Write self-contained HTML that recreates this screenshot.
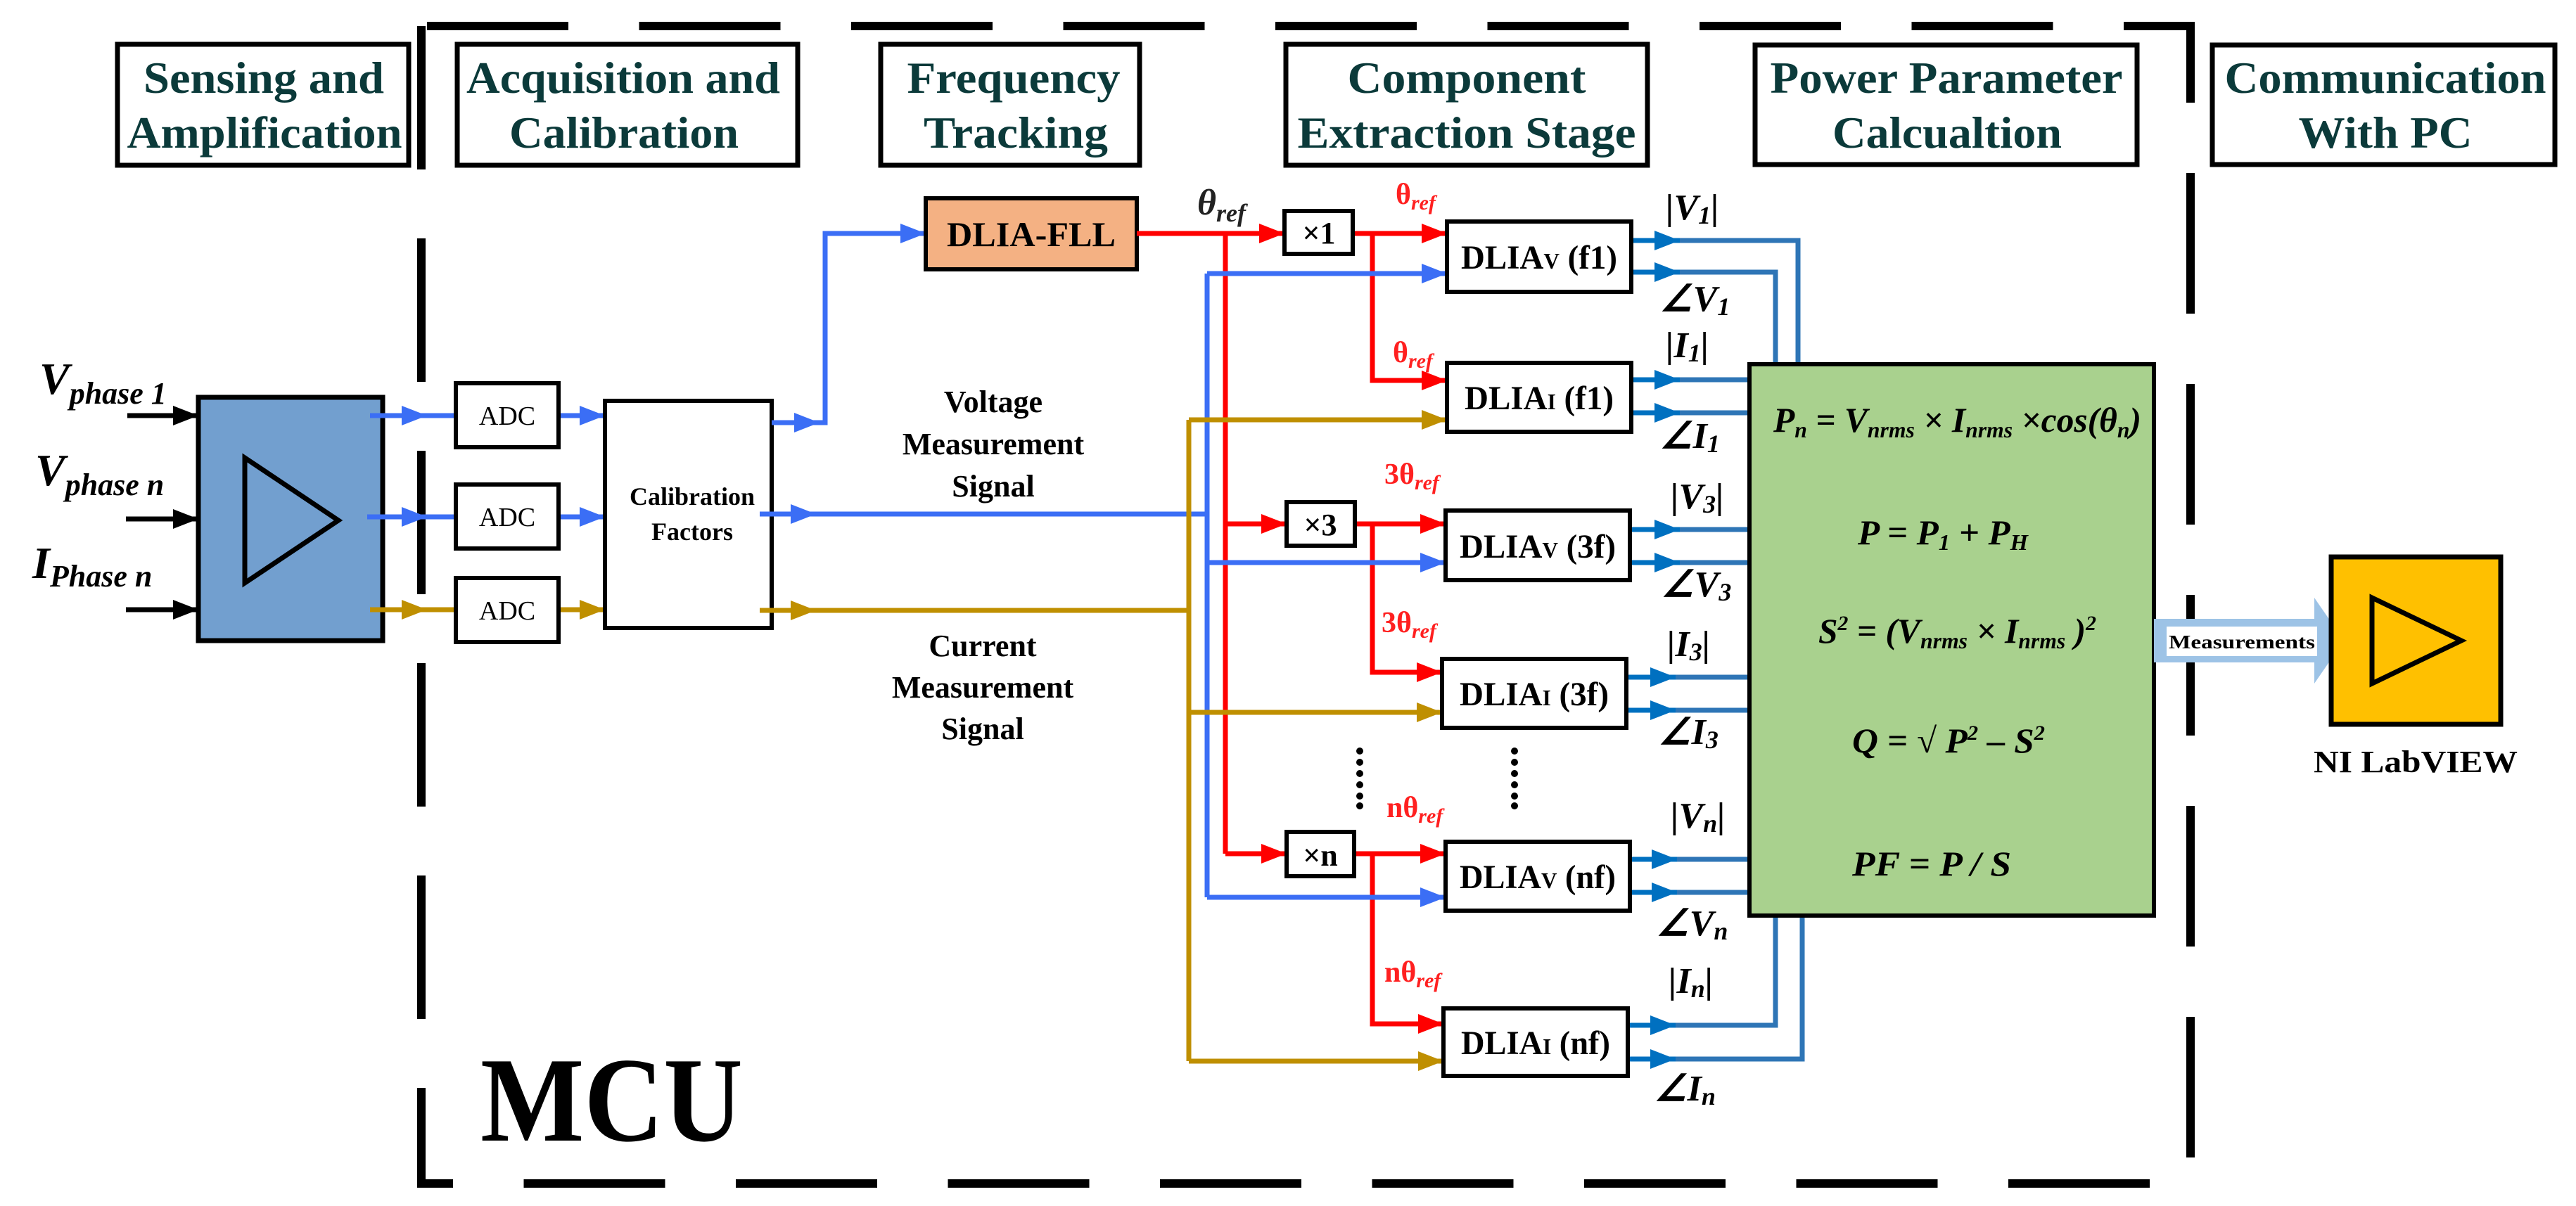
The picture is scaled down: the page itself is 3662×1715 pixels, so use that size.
<!DOCTYPE html>
<html><head><meta charset="utf-8"><style>
html,body{margin:0;padding:0;background:#fff;}
svg{display:block;}
text{font-family:"Liberation Serif",serif;}
</style></head><body>
<svg width="3662" height="1715" viewBox="0 0 3662 1715" xmlns="http://www.w3.org/2000/svg">
<defs>
<marker id="aK" markerUnits="userSpaceOnUse" markerWidth="40" markerHeight="30" refX="36" refY="14" orient="auto"><path d="M0,0 L36,14 L0,28 Z" fill="#000"/></marker>
<marker id="aB" markerUnits="userSpaceOnUse" markerWidth="40" markerHeight="30" refX="36" refY="14" orient="auto"><path d="M0,0 L36,14 L0,28 Z" fill="#3b6ef5"/></marker>
<marker id="aR" markerUnits="userSpaceOnUse" markerWidth="40" markerHeight="30" refX="36" refY="14" orient="auto"><path d="M0,0 L36,14 L0,28 Z" fill="#ff0000"/></marker>
<marker id="aG" markerUnits="userSpaceOnUse" markerWidth="40" markerHeight="30" refX="36" refY="14" orient="auto"><path d="M0,0 L36,14 L0,28 Z" fill="#bf8f00"/></marker>
<marker id="aO" markerUnits="userSpaceOnUse" markerWidth="40" markerHeight="30" refX="36" refY="14" orient="auto"><path d="M0,0 L36,14 L0,28 Z" fill="#0070c0"/></marker>
</defs>

<g stroke="#000" stroke-width="12" fill="none">
<line x1="599" y1="31" x2="599" y2="1689" stroke-dasharray="204 98" stroke-dashoffset="-6"/>
<line x1="607" y1="37" x2="3120" y2="37" stroke-dasharray="201 100.5"/>
<line x1="3114" y1="31" x2="3114" y2="1689" stroke-dasharray="200 100" stroke-dashoffset="85"/>
<line x1="593" y1="1683" x2="3120" y2="1683" stroke-dasharray="201 100.5" stroke-dashoffset="150"/>
</g>

<g stroke="#000" stroke-width="7" fill="#fff">
<rect x="167" y="63" width="414" height="172"/>
<rect x="650" y="63" width="484" height="172"/>
<rect x="1252" y="63" width="368" height="172"/>
<rect x="1828" y="63" width="514" height="172"/>
<rect x="2495" y="64" width="543" height="170"/>
<rect x="3145" y="64" width="487" height="170"/>
</g>
<g fill="#0b3a3a" font-weight="bold" font-size="64" text-anchor="middle">
<text x="375" y="132" textLength="342" lengthAdjust="spacingAndGlyphs">Sensing and</text>
<text x="376" y="210" textLength="391" lengthAdjust="spacingAndGlyphs">Amplification</text>
<text x="886" y="132" textLength="446" lengthAdjust="spacingAndGlyphs">Acquisition and</text>
<text x="887" y="210" textLength="326" lengthAdjust="spacingAndGlyphs">Calibration</text>
<text x="1441" y="132" textLength="303" lengthAdjust="spacingAndGlyphs">Frequency</text>
<text x="1444" y="210" textLength="262" lengthAdjust="spacingAndGlyphs">Tracking</text>
<text x="2085" y="132" textLength="339" lengthAdjust="spacingAndGlyphs">Component</text>
<text x="2085" y="210" textLength="481" lengthAdjust="spacingAndGlyphs">Extraction Stage</text>
<text x="2767" y="132" textLength="501" lengthAdjust="spacingAndGlyphs">Power Parameter</text>
<text x="2768" y="210" textLength="326" lengthAdjust="spacingAndGlyphs">Calcualtion</text>
<text x="3391" y="132" textLength="457" lengthAdjust="spacingAndGlyphs">Communication</text>
<text x="3391" y="210" textLength="247" lengthAdjust="spacingAndGlyphs">With PC</text>
</g>

<text x="683" y="1622" font-size="172" font-weight="bold" textLength="373" lengthAdjust="spacingAndGlyphs">MCU</text>

<g font-weight="bold" font-style="italic" fill="#000">
<text x="56" y="560" font-size="64">V<tspan font-size="44" dy="14">phase 1</tspan></text>
<text x="50" y="690" font-size="64">V<tspan font-size="44" dy="14">phase n</tspan></text>
<text x="46" y="822" font-size="64">I<tspan font-size="44" dy="12">Phase n</tspan></text>
</g>
<g stroke="#000" stroke-width="7">
<line x1="181" y1="591" x2="282" y2="591" marker-end="url(#aK)"/>
<line x1="179" y1="738" x2="282" y2="738" marker-end="url(#aK)"/>
<line x1="179" y1="867" x2="282" y2="867" marker-end="url(#aK)"/>
</g>
<rect x="282" y="565" width="262" height="346" fill="#729fcf" stroke="#000" stroke-width="7"/>
<polygon points="348,651 481,740 348,829" fill="none" stroke="#000" stroke-width="7"/>

<g stroke-width="7" fill="none">
<line x1="526" y1="591" x2="607" y2="591" stroke="#3b6ef5" marker-end="url(#aB)"/>
<line x1="600" y1="591" x2="648" y2="591" stroke="#3b6ef5"/>
<line x1="522" y1="735" x2="607" y2="735" stroke="#3b6ef5" marker-end="url(#aB)"/>
<line x1="600" y1="735" x2="648" y2="735" stroke="#3b6ef5"/>
<line x1="526" y1="867" x2="607" y2="867" stroke="#bf8f00" marker-end="url(#aG)"/>
<line x1="600" y1="867" x2="648" y2="867" stroke="#bf8f00"/>
<line x1="794" y1="591" x2="860" y2="591" stroke="#3b6ef5" marker-end="url(#aB)"/>
<line x1="794" y1="735" x2="860" y2="735" stroke="#3b6ef5" marker-end="url(#aB)"/>
<line x1="794" y1="867" x2="860" y2="867" stroke="#bf8f00" marker-end="url(#aG)"/>
</g>
<g stroke="#000" stroke-width="6" fill="#fff">
<rect x="648" y="545" width="146" height="91"/>
<rect x="648" y="689" width="146" height="91"/>
<rect x="648" y="822" width="146" height="91"/>
<rect x="860" y="570" width="237" height="323"/>
</g>
<g font-size="38" text-anchor="middle" fill="#000">
<text x="721" y="604">ADC</text>
<text x="721" y="748">ADC</text>
<text x="721" y="881">ADC</text>
<text x="984" y="718" font-weight="bold" font-size="36">Calibration</text>
<text x="984" y="768" font-weight="bold" font-size="36">Factors</text>
</g>

<g stroke-width="7" fill="none">
<line x1="1097" y1="601" x2="1165" y2="601" stroke="#3b6ef5" marker-end="url(#aB)"/>
<polyline points="1160,601 1173,601 1173,332 1316,332" stroke="#3b6ef5" marker-end="url(#aB)"/>
<line x1="1080" y1="731" x2="1160" y2="731" stroke="#3b6ef5" marker-end="url(#aB)"/>
<line x1="1155" y1="731" x2="1719" y2="731" stroke="#3b6ef5"/>
<line x1="1080" y1="868" x2="1160" y2="868" stroke="#bf8f00" marker-end="url(#aG)"/>
<line x1="1155" y1="868" x2="1693" y2="868" stroke="#bf8f00"/>
</g>
<g font-size="44" font-weight="bold" text-anchor="middle" fill="#000">
<text x="1412" y="586">Voltage</text>
<text x="1412" y="646">Measurement</text>
<text x="1412" y="706">Signal</text>
<text x="1397" y="933">Current</text>
<text x="1397" y="992">Measurement</text>
<text x="1397" y="1051">Signal</text>
</g>

<rect x="1316" y="282" width="300" height="101" fill="#f4b183" stroke="#000" stroke-width="6"/>
<text x="1466" y="350" font-size="50" font-weight="bold" text-anchor="middle" textLength="240" lengthAdjust="spacingAndGlyphs">DLIA-FLL</text>
<text x="1702" y="305" font-size="52" font-weight="bold" font-style="italic" fill="#222">θ<tspan font-size="36" dy="10">ref</tspan></text>

<g stroke-width="7" fill="none">
<line x1="1616" y1="332" x2="1826" y2="332" stroke="#ff0000" marker-end="url(#aR)"/>
<line x1="1742" y1="332" x2="1742" y2="1214" stroke="#ff0000"/>
<line x1="1742" y1="745" x2="1829" y2="745" stroke="#ff0000" marker-end="url(#aR)"/>
<line x1="1742" y1="1214" x2="1829" y2="1214" stroke="#ff0000" marker-end="url(#aR)"/>
<line x1="1923" y1="332" x2="2057" y2="332" stroke="#ff0000" marker-end="url(#aR)"/>
<polyline points="1951,332 1951,541 2057,541" stroke="#ff0000" marker-end="url(#aR)"/>
<line x1="1926" y1="745" x2="2055" y2="745" stroke="#ff0000" marker-end="url(#aR)"/>
<polyline points="1951,745 1951,956 2050,956" stroke="#ff0000" marker-end="url(#aR)"/>
<line x1="1925" y1="1214" x2="2055" y2="1214" stroke="#ff0000" marker-end="url(#aR)"/>
<polyline points="1951,1214 1951,1456 2052,1456" stroke="#ff0000" marker-end="url(#aR)"/>
<line x1="1716" y1="389" x2="1716" y2="1276" stroke="#3b6ef5"/>
<line x1="1716" y1="389" x2="2057" y2="389" stroke="#3b6ef5" marker-end="url(#aB)"/>
<line x1="1716" y1="800" x2="2055" y2="800" stroke="#3b6ef5" marker-end="url(#aB)"/>
<line x1="1716" y1="1276" x2="2055" y2="1276" stroke="#3b6ef5" marker-end="url(#aB)"/>
<line x1="1690" y1="597" x2="1690" y2="1509" stroke="#bf8f00"/>
<line x1="1690" y1="597" x2="2057" y2="597" stroke="#bf8f00" marker-end="url(#aG)"/>
<line x1="1690" y1="1013" x2="2050" y2="1013" stroke="#bf8f00" marker-end="url(#aG)"/>
<line x1="1690" y1="1509" x2="2052" y2="1509" stroke="#bf8f00" marker-end="url(#aG)"/>
</g>

<g stroke="#000" stroke-width="6" fill="#fff">
<rect x="1826" y="300" width="97" height="61"/>
<rect x="1829" y="714" width="97" height="62"/>
<rect x="1829" y="1183" width="96" height="63"/>
</g>
<g font-size="44" text-anchor="middle" font-weight="bold">
<text x="1875" y="346">×1</text>
<text x="1877" y="761">×3</text>
<text x="1877" y="1231">×n</text>
</g>

<g fill="#ff2020" font-weight="bold" font-size="42">
<text x="1984" y="290">θ<tspan font-size="30" font-style="italic" dy="8">ref</tspan></text>
<text x="1980" y="515">θ<tspan font-size="30" font-style="italic" dy="8">ref</tspan></text>
<text x="1968" y="688">3θ<tspan font-size="30" font-style="italic" dy="8">ref</tspan></text>
<text x="1964" y="899">3θ<tspan font-size="30" font-style="italic" dy="8">ref</tspan></text>
<text x="1971" y="1162">nθ<tspan font-size="30" font-style="italic" dy="8">ref</tspan></text>
<text x="1968" y="1396">nθ<tspan font-size="30" font-style="italic" dy="8">ref</tspan></text>
</g>

<g fill="#000">
<circle cx="1933" cy="1068" r="5"/><circle cx="1933" cy="1084" r="5"/><circle cx="1933" cy="1100" r="5"/><circle cx="1933" cy="1116" r="5"/><circle cx="1933" cy="1132" r="5"/><circle cx="1933" cy="1146" r="5"/>
<circle cx="2153" cy="1068" r="5"/><circle cx="2153" cy="1084" r="5"/><circle cx="2153" cy="1100" r="5"/><circle cx="2153" cy="1116" r="5"/><circle cx="2153" cy="1132" r="5"/><circle cx="2153" cy="1146" r="5"/>
</g>

<g stroke="#2e75b6" stroke-width="7" fill="none">
<polyline points="2370,342 2556,342 2556,518"/>
<polyline points="2370,387 2524,387 2524,518"/>
<line x1="2370" y1="540" x2="2487" y2="540"/><line x1="2370" y1="587" x2="2487" y2="587"/>
<line x1="2370" y1="753" x2="2487" y2="753"/><line x1="2370" y1="800" x2="2487" y2="800"/>
<line x1="2366" y1="963" x2="2487" y2="963"/><line x1="2366" y1="1010" x2="2487" y2="1010"/>
<line x1="2368" y1="1222" x2="2487" y2="1222"/><line x1="2368" y1="1269" x2="2487" y2="1269"/>
<polyline points="2366,1458 2524,1458 2524,1300"/>
<polyline points="2366,1506 2562,1506 2562,1300"/>
</g>
<g stroke="#0070c0" stroke-width="7">
<line x1="2319" y1="342" x2="2388" y2="342" marker-end="url(#aO)"/>
<line x1="2319" y1="387" x2="2388" y2="387" marker-end="url(#aO)"/>
<line x1="2319" y1="540" x2="2388" y2="540" marker-end="url(#aO)"/>
<line x1="2319" y1="587" x2="2388" y2="587" marker-end="url(#aO)"/>
<line x1="2317" y1="753" x2="2388" y2="753" marker-end="url(#aO)"/>
<line x1="2317" y1="800" x2="2388" y2="800" marker-end="url(#aO)"/>
<line x1="2312" y1="963" x2="2382" y2="963" marker-end="url(#aO)"/>
<line x1="2312" y1="1010" x2="2382" y2="1010" marker-end="url(#aO)"/>
<line x1="2317" y1="1222" x2="2384" y2="1222" marker-end="url(#aO)"/>
<line x1="2317" y1="1269" x2="2384" y2="1269" marker-end="url(#aO)"/>
<line x1="2314" y1="1458" x2="2382" y2="1458" marker-end="url(#aO)"/>
<line x1="2314" y1="1506" x2="2382" y2="1506" marker-end="url(#aO)"/>
</g>

<g stroke="#000" stroke-width="6" fill="#fff">
<rect x="2057" y="315" width="262" height="100"/>
<rect x="2057" y="516" width="262" height="98"/>
<rect x="2055" y="726" width="262" height="99"/>
<rect x="2050" y="937" width="262" height="98"/>
<rect x="2055" y="1197" width="262" height="98"/>
<rect x="2052" y="1434" width="262" height="96"/>
</g>
<g font-size="48" font-weight="bold" text-anchor="middle">
<text x="2188" y="382" textLength="222" lengthAdjust="spacingAndGlyphs">DLIA<tspan font-size="32">V</tspan> (f1)</text>
<text x="2188" y="582" textLength="212" lengthAdjust="spacingAndGlyphs">DLIA<tspan font-size="32">I</tspan> (f1)</text>
<text x="2186" y="793" textLength="222" lengthAdjust="spacingAndGlyphs">DLIA<tspan font-size="32">V</tspan> (3f)</text>
<text x="2181" y="1003" textLength="212" lengthAdjust="spacingAndGlyphs">DLIA<tspan font-size="32">I</tspan> (3f)</text>
<text x="2186" y="1263" textLength="222" lengthAdjust="spacingAndGlyphs">DLIA<tspan font-size="32">V</tspan> (nf)</text>
<text x="2183" y="1499" textLength="212" lengthAdjust="spacingAndGlyphs">DLIA<tspan font-size="32">I</tspan> (nf)</text>
</g>

<g font-size="52" font-weight="bold" font-style="italic">
<text x="2368" y="312">|V<tspan font-size="36" dy="6">1</tspan><tspan dy="-6">|</tspan></text>
<text x="2360" y="442">∠V<tspan font-size="36" dy="6">1</tspan></text>
<text x="2368" y="508">|I<tspan font-size="36" dy="6">1</tspan><tspan dy="-6">|</tspan></text>
<text x="2360" y="637">∠I<tspan font-size="36" dy="6">1</tspan></text>
<text x="2375" y="723">|V<tspan font-size="36" dy="6">3</tspan><tspan dy="-6">|</tspan></text>
<text x="2362" y="848">∠V<tspan font-size="36" dy="6">3</tspan></text>
<text x="2370" y="933">|I<tspan font-size="36" dy="6">3</tspan><tspan dy="-6">|</tspan></text>
<text x="2358" y="1058">∠I<tspan font-size="36" dy="6">3</tspan></text>
<text x="2375" y="1177">|V<tspan font-size="36" dy="6">n</tspan><tspan dy="-6">|</tspan></text>
<text x="2355" y="1330">∠V<tspan font-size="36" dy="6">n</tspan></text>
<text x="2372" y="1412">|I<tspan font-size="36" dy="6">n</tspan><tspan dy="-6">|</tspan></text>
<text x="2352" y="1565">∠I<tspan font-size="36" dy="6">n</tspan></text>
</g>

<rect x="2487" y="518" width="575" height="784" fill="#a9d18e" stroke="#000" stroke-width="6"/>
<g font-size="50" font-weight="bold" font-style="italic">
<text x="2521" y="614" textLength="523" lengthAdjust="spacingAndGlyphs">P<tspan font-size="32" dy="8">n</tspan><tspan dy="-8"> = V</tspan><tspan font-size="32" dy="8">nrms</tspan><tspan dy="-8"> × I</tspan><tspan font-size="32" dy="8">nrms</tspan><tspan dy="-8"> ×cos(θ</tspan><tspan font-size="32" dy="8">n</tspan><tspan dy="-8">)</tspan></text>
<text x="2641" y="774" textLength="242" lengthAdjust="spacingAndGlyphs">P = P<tspan font-size="32" dy="8">1</tspan><tspan dy="-8"> + P</tspan><tspan font-size="32" dy="8">H</tspan></text>
<text x="2585" y="914" textLength="395" lengthAdjust="spacingAndGlyphs">S<tspan font-size="30" dy="-18">2</tspan><tspan dy="18"> = (V</tspan><tspan font-size="32" dy="8">nrms</tspan><tspan dy="-8"> × I</tspan><tspan font-size="32" dy="8">nrms</tspan><tspan dy="-8"> )</tspan><tspan font-size="30" dy="-18">2</tspan></text>
<text x="2633" y="1070" textLength="274" lengthAdjust="spacingAndGlyphs">Q = √ P<tspan font-size="30" dy="-18">2</tspan><tspan dy="18"> – S</tspan><tspan font-size="30" dy="-18">2</tspan></text>
<text x="2633" y="1245" textLength="226" lengthAdjust="spacingAndGlyphs">PF = P / S</text>
</g>

<polygon points="3062,880 3290,880 3290,850 3332,911 3290,972 3290,942 3062,942" fill="#9dc3e6"/>
<rect x="3080" y="891" width="214" height="42" fill="#fff"/>
<text x="3187" y="922" font-size="27" font-weight="bold" text-anchor="middle" textLength="208" lengthAdjust="spacingAndGlyphs">Measurements</text>

<rect x="3314" y="792" width="241" height="238" fill="#ffc000" stroke="#000" stroke-width="7"/>
<polygon points="3372,850 3499,911 3372,972" fill="none" stroke="#000" stroke-width="7"/>
<text x="3434" y="1098" font-size="44" font-weight="bold" text-anchor="middle" textLength="290" lengthAdjust="spacingAndGlyphs">NI LabVIEW</text>
</svg>
</body></html>
